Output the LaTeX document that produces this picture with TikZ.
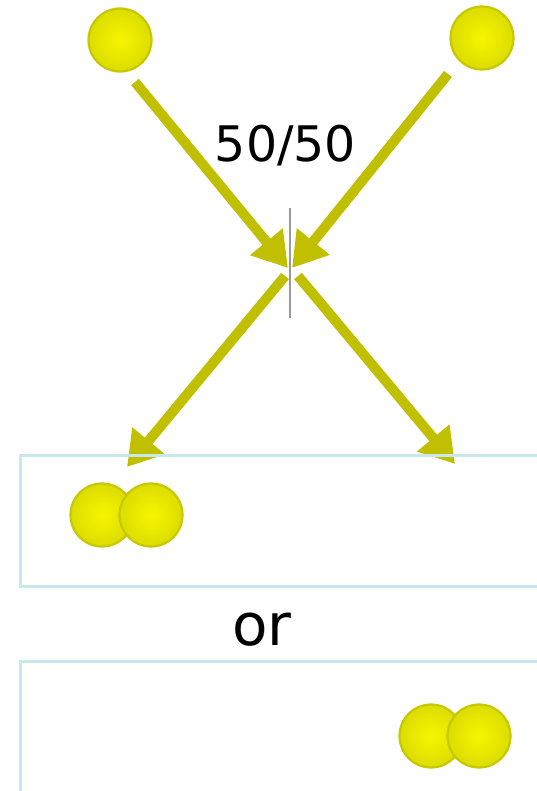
\documentclass[tikz,border=0pt]{standalone}
\usepackage{fontspec}
\setmainfont{DejaVu Sans}
\usetikzlibrary{arrows.meta}
\definecolor{arrowc}{HTML}{C0C000}
\definecolor{ballin}{HTML}{F6F600}
\definecolor{ballout}{HTML}{DCDC00}
\definecolor{balledge}{HTML}{C8C800}
\definecolor{boxc}{HTML}{C8E8EA}
\definecolor{splitc}{HTML}{999999}
\tikzset{
  ball/.style={circle, minimum size=63pt, inner sep=0pt, draw=balledge, line width=2.2pt,
    inner color=ballin, outer color=ballout},
  flow/.style={draw=arrowc, line width=10pt, -{Triangle[length=34pt,width=40pt]}},
  panel/.style={draw=boxc, line width=3pt},
}
\begin{document}
\begin{tikzpicture}[x=1pt,y=-1pt]
\useasboundingbox (0,0) rectangle (536,791);
% top balls
\node[ball] (b1) at (120,40) {};
\node[ball] (b2) at (482,38) {};
% arrows
\coordinate (s1) at (135,82);
\coordinate (t1) at (288,268);
\coordinate (s2) at (448,74);
\coordinate (t2) at (292,268);
\coordinate (s3) at (285,276);
\coordinate (t3) at (127,467);
\coordinate (s4) at (298,276);
\coordinate (t4) at (455,464);
\draw[flow] (s1) -- (t1);
\draw[flow] (s2) -- (t2);
\draw[flow] (s3) -- (t3);
\draw[flow] (s4) -- (t4);
% splitter
\coordinate (v1) at (290,208);
\coordinate (v2) at (290,318);
\draw[splitc, line width=2.5pt] (v1) -- (v2);
% label
\node[anchor=base, inner sep=0pt, font=\fontsize{49}{55}\selectfont] (lbl) at (285.5,162) {50/50};
% boxes
\coordinate (p1a) at (20,455);
\coordinate (p1b) at (545,586);
\draw[panel] (p1a) rectangle (p1b);
\coordinate (p2a) at (20,795);
\coordinate (p2b) at (20,661);
\coordinate (p2c) at (545,661);
\draw[panel] (p2a) -- (p2b) -- (p2c);
\node[anchor=base, inner sep=0pt, font=\fontsize{58}{64}\selectfont] (or) at (262,645) {or};
% pair balls
\node[ball] (c1) at (102,515) {};
\node[ball] (c2) at (151,515) {};
\node[ball] (d1) at (431,736) {};
\node[ball] (d2) at (479,736) {};
\end{tikzpicture}
\end{document}
